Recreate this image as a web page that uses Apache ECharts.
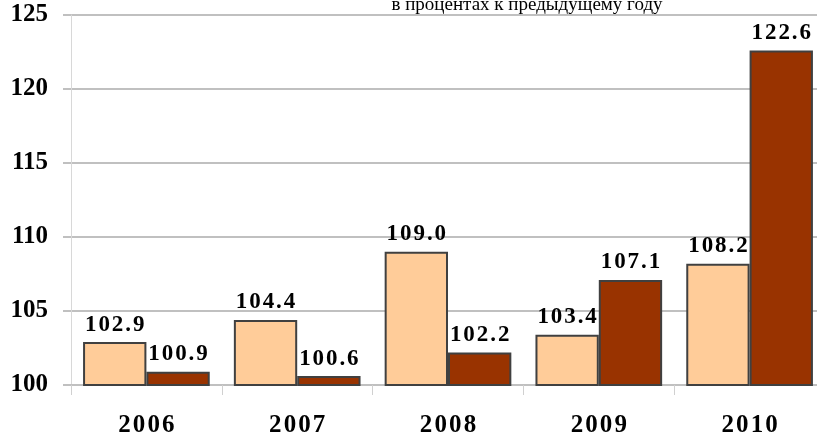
<!DOCTYPE html>
<html>
<head>
<meta charset="utf-8">
<script src="https://cdn.jsdelivr.net/npm/echarts@6/dist/echarts.min.js"></script>
<style>
  html, body { margin: 0; padding: 0; background: #fff; }
  #chart { width: 817px; height: 437px; }
</style>
</head>
<body>
<div id="chart"></div>
<script>
var years = ['2006', '2007', '2008', '2009', '2010'];
var seriesA = [102.9, 104.4, 109.0, 103.4, 108.2];
var seriesB = [100.9, 100.6, 102.2, 107.1, 122.6];
var yTicks = { min: 100, max: 125, interval: 5 };
var titleText = 'в процентах к предыдущему году';

var serif = '"Liberation Serif", "Times New Roman", serif';

// spread the characters a bit, the original labels are letter-spaced
function spaced(s) {
	return String(s).split('').join('\u200A');
}

var myChart = echarts.init(document.getElementById('chart'));

var labelStyle = {
	show: true,
	position: 'top',
	distance: 6,
	color: '#000',
	fontFamily: serif,
	fontWeight: 'bold',
	fontSize: 23,
	formatter: function (p) { return spaced(p.value.toFixed(1)); }
};

var option = {
	animation: false,
	title: {
		text: titleText,
		left: 522,
		textAlign: 'center',
		top: -9,
		textStyle: {
			fontFamily: serif,
			fontWeight: 'normal',
			fontSize: 19,
			color: '#000'
		}
	},
	grid: {
		left: 71,
		right: -8,
		top: 15,
		bottom: 52,
		containLabel: false,
		outerBoundsMode: 'none'
	},
	xAxis: {
		type: 'category',
		data: years,
		axisLine: { show: true, lineStyle: { color: '#C0C0C0', width: 2 } },
		axisTick: { show: true, length: 10, lineStyle: { color: '#D0D0D0', width: 1 } },
		axisLabel: {
			margin: 28,
			color: '#000',
			fontFamily: serif,
			fontWeight: 'bold',
			fontSize: 25,
			formatter: function (v) { return spaced(v); }
		}
	},
	yAxis: {
		type: 'value',
		min: yTicks.min,
		max: yTicks.max,
		interval: yTicks.interval,
		axisLine: { show: true, lineStyle: { color: '#D8D8D8', width: 1 } },
		axisTick: { show: true, length: 8, lineStyle: { color: '#C0C0C0', width: 2 } },
		splitLine: { show: true, lineStyle: { color: '#C0C0C0', width: 2 } },
		axisLabel: {
			margin: 23,
			color: '#000',
			fontFamily: serif,
			fontWeight: 'bold',
			fontSize: 25
		}
	},
	series: [
		{
			type: 'bar',
			data: seriesA,
			barGap: '0%',
			barCategoryGap: '16%',
			itemStyle: { color: '#FFCC99', borderColor: '#404040', borderWidth: 2 },
			label: labelStyle
		},
		{
			type: 'bar',
			data: seriesB,
			barGap: '0%',
			barCategoryGap: '16%',
			itemStyle: { color: '#993300', borderColor: '#404040', borderWidth: 2 },
			label: labelStyle
		}
	]
};

myChart.setOption(option);
</script>
</body>
</html>
